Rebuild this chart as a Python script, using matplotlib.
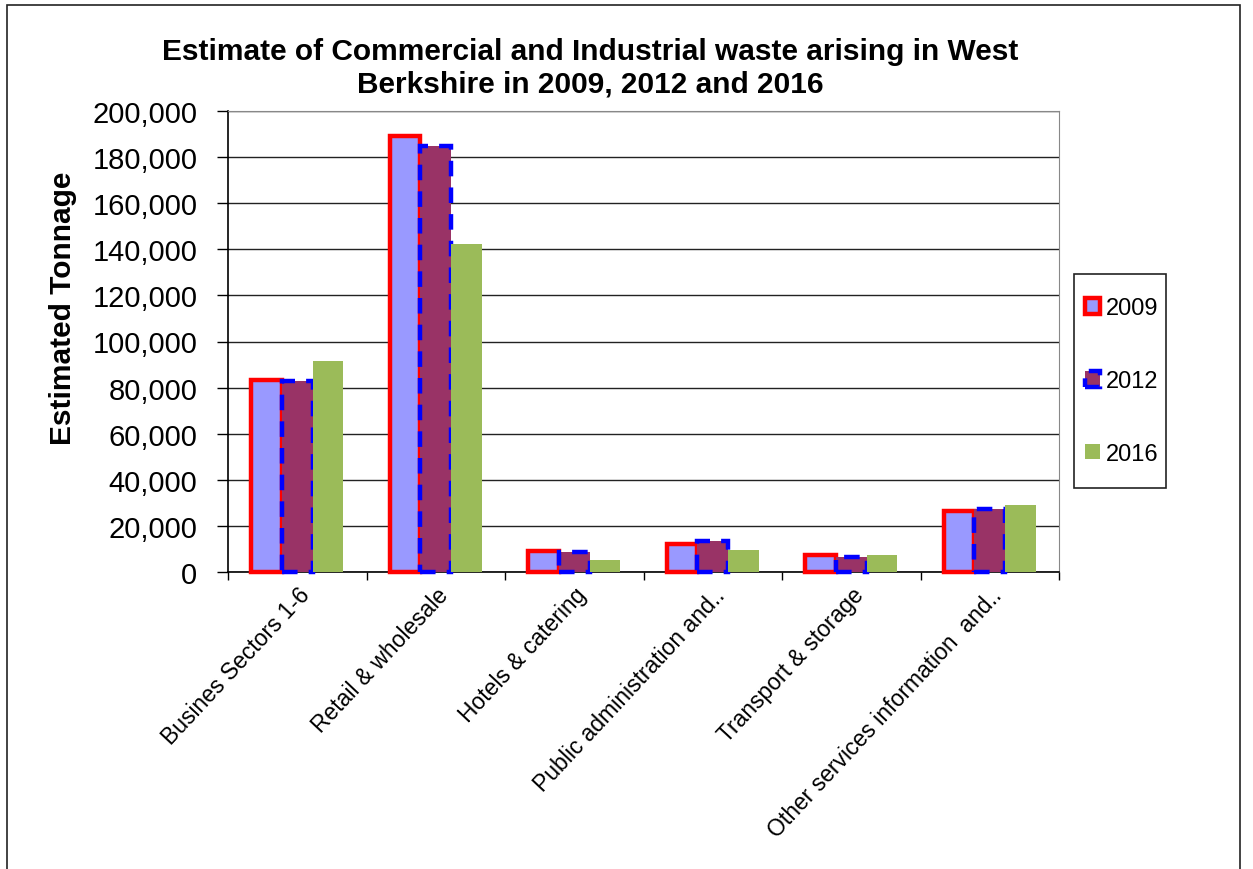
import matplotlib
matplotlib.use('Agg')
import matplotlib.pyplot as plt
import numpy as np
from matplotlib.patches import Rectangle

plt.rcParams['font.family'] = ['Liberation Sans', 'DejaVu Sans']

# waste arisings by sector (tonnes)
sectors = ['Busines Sectors 1-6', 'Retail & wholesale', 'Hotels & catering',
           'Public administration and..', 'Transport & storage',
           'Other services information  and..']
years = ['2009', '2012', '2016']
t2009 = [83300, 189000, 9000, 12200, 7400, 26500]
t2012 = [83000, 184800, 8500, 13400, 6500, 27300]
t2016 = [91500, 142300, 5200, 9500, 7400, 29000]

W, H = 1253, 870
fig = plt.figure(figsize=(W / 100, H / 100), dpi=100)
ax = fig.add_axes([228/W, 1 - 573/H, (1059-228)/W, (573-112)/H])

# outer chart frame
fig.patches.append(Rectangle((7/W, -0.1), (1240-7)/W, 1.1 - 6/H,
                             transform=fig.transFigure, fill=False,
                             edgecolor='#222222', lw=1.2))

x = np.arange(len(sectors))
w = 1 / 4.5
styles = [
    dict(facecolor='#9999FF', edgecolor='#FF0000', linewidth=3.2, linestyle='-'),
    dict(facecolor='#993366', edgecolor='#0000FF', linewidth=3.2, linestyle=(0, (3.5, 2.5))),
    dict(facecolor='#9BBB59', edgecolor='none', linewidth=0),
]
for i, (vals, st) in enumerate(zip([t2009, t2012, t2016], styles)):
    ax.bar(x + (i - 1) * w, vals, w, label=years[i], zorder=3 + i,
           clip_on=False, **st)

ax.set_xlim(-0.5, len(sectors) - 0.5)
ax.set_ylim(0, 200000)
ax.set_yticks(np.arange(0, 200001, 20000))
ax.set_yticklabels([f'{v:,}' for v in range(0, 200001, 20000)], fontsize=21)
ax.yaxis.grid(True, color='#222222', lw=1.0, zorder=0)
ax.set_axisbelow(True)

# category ticks sit between groups, labels at group centres
ax.set_xticks(np.arange(-0.5, len(sectors)), minor=False)
ax.set_xticklabels([])
ax.set_xticks(x, minor=True)
ax.set_xticklabels(sectors, minor=True, rotation=47, ha='right',
                   rotation_mode='anchor', fontsize=16.5)
ax.tick_params(axis='x', which='minor', length=0, pad=8)
ax.tick_params(axis='x', which='major', length=6, width=1, direction='out')
ax.tick_params(axis='y', length=8, width=1, direction='out', pad=14)

for s in ['top', 'right']:
    ax.spines[s].set_color('#888888')
for s in ['left', 'bottom']:
    ax.spines[s].set_color('#000000')
    ax.spines[s].set_linewidth(1.2)

fig.text(63/W, 1 - 308/H, 'Estimated Tonnage', rotation=90, ha='center',
         va='center', fontsize=21.5, fontweight='bold')

fig.text(590/W, 1 - 68/H,
         'Estimate of Commercial and Industrial waste arising in West\nBerkshire in 2009, 2012 and 2016',
         ha='center', va='center', fontsize=21.5, fontweight='bold', linespacing=1.2)

# legend box drawn separately so its size can be set directly
fig.patches.append(Rectangle((1074/W, 1 - 489/H), (1166-1074)/W, (489-275)/H,
                             transform=fig.transFigure, facecolor='white',
                             edgecolor='#222222', lw=1.2))
leg = fig.legend(loc='center', bbox_to_anchor=(1122/W, 1 - 382/H),
                 fontsize=17, frameon=False,
                 handlelength=0.65, handleheight=0.65, handletextpad=0.25,
                 labelspacing=2.15, borderpad=0, borderaxespad=0)

fig.savefig('out.png', dpi=100)
